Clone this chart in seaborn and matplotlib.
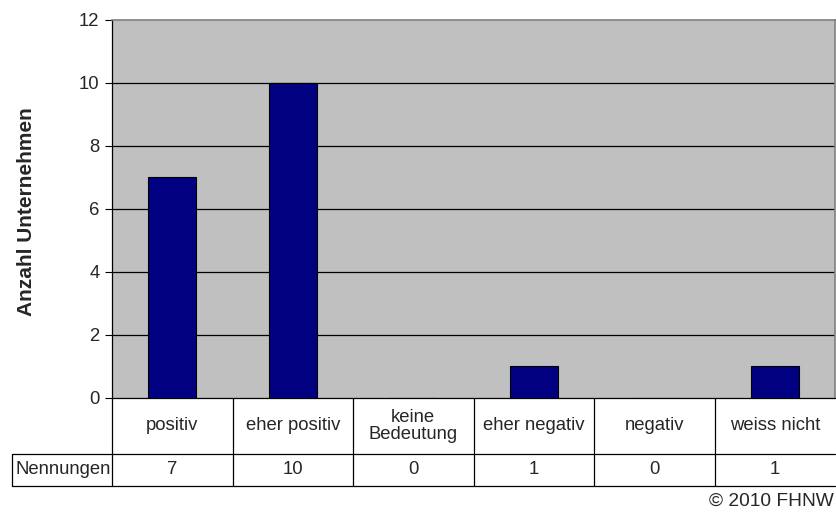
import matplotlib
matplotlib.use("Agg")
import matplotlib.pyplot as plt
import seaborn as sns
import pandas as pd
from matplotlib.lines import Line2D
import matplotlib.transforms as mtransforms

categories = ["positiv", "eher positiv", "keine\nBedeutung", "eher negativ", "negativ", "weiss nicht"]
values = [7, 10, 0, 1, 0, 1]
yticks = [0, 2, 4, 6, 8, 10, 12]
row_label = "Nennungen"
ylabel = "Anzahl Unternehmen"
footer = "\u00a9 2010 FHNW"

sns.set_style("white")
plt.rcParams["font.family"] = ["Liberation Sans", "DejaVu Sans"]

FS = 13.3
W, H = 836, 516
fig = plt.figure(figsize=(W / 100, H / 100), dpi=100)
L, R, T, B = 112, 835, 19.5, 398
ax = fig.add_axes([L / W, 1 - B / H, (R - L) / W, (B - T) / H])

df = pd.DataFrame({"cat": categories, "val": values})
sns.barplot(data=df, x="cat", y="val", ax=ax, color="#000080", width=0.4,
            edgecolor="black", linewidth=0.8, saturation=1, zorder=3)

ax.set_facecolor("#C0C0C0")
ax.set_ylim(0, 12)
ax.set_xlim(-0.5, len(categories) - 0.5)
ax.set_yticks(yticks)
ax.set_yticklabels([str(t) for t in yticks], fontsize=FS)
ax.tick_params(axis="y", direction="out", length=5, width=0.8, color="black", pad=4, left=True)
ax.tick_params(axis="x", bottom=False, labelbottom=False)
for t in yticks[1:-1]:
    ax.axhline(t, color="black", lw=0.9, zorder=2)
ax.set_xlabel("")
ax.set_ylabel(ylabel, fontsize=15, fontweight="bold")
ax.yaxis.set_label_coords((36 - L) / (R - L), (B - 212) / (B - T))

for s in ["top", "right"]:
    ax.spines[s].set_color("#808080")
    ax.spines[s].set_linewidth(1.2)
for s in ["left", "bottom"]:
    ax.spines[s].set_color("black")
    ax.spines[s].set_linewidth(0.9)

def fx(px):
    return px / W
def fy(py):
    return 1 - py / H

row1_bot = 454
row2_bot = 486
hdr_left = 12
lw = 0.9
fig.add_artist(Line2D([fx(hdr_left), fx(R)], [fy(row1_bot), fy(row1_bot)], color="black", lw=lw))
fig.add_artist(Line2D([fx(hdr_left), fx(R)], [fy(row2_bot), fy(row2_bot)], color="black", lw=lw))
fig.add_artist(Line2D([fx(hdr_left), fx(hdr_left)], [fy(row1_bot), fy(row2_bot)], color="black", lw=lw))

trans = mtransforms.blended_transform_factory(ax.transData, fig.transFigure)
for i in range(len(categories)):
    xb = i - 0.5
    ax.add_line(Line2D([xb, xb], [fy(B), fy(row2_bot)], transform=trans,
                       color="black", lw=lw, clip_on=False))
for i, (c, v) in enumerate(zip(categories, values)):
    ax.text(i, fy((B + row1_bot) / 2), c, transform=trans, ha="center", va="center",
            fontsize=FS, linespacing=1.05)
    ax.text(i, fy((row1_bot + row2_bot) / 2), str(v), transform=trans, ha="center",
            va="center", fontsize=FS)
fig.text(fx((hdr_left + L) / 2 + 1), fy((row1_bot + row2_bot) / 2), row_label,
         ha="center", va="center", fontsize=FS)
fig.text(fx(834), fy(501), footer, ha="right", va="center", fontsize=13.8)

fig.savefig("out.png", dpi=100)
